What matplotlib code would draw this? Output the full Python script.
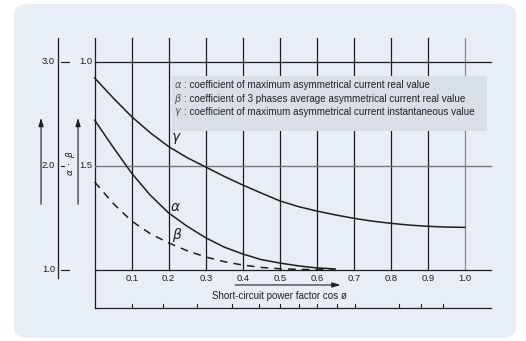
import matplotlib.pyplot as plt
from matplotlib.patches import FancyBboxPatch, Rectangle

plt.rcParams['font.family'] = ['Liberation Sans', 'DejaVu Sans']
narrow = ['Liberation Sans Narrow', 'Liberation Sans', 'DejaVu Sans']

# curve values (outer scale 1.0 .. 3.0)
pf = [0.0, 0.05, 0.1, 0.15, 0.2, 0.25, 0.3, 0.35, 0.4, 0.45, 0.5,
      0.55, 0.6, 0.65, 0.7, 0.75, 0.8, 0.85, 0.9, 0.95, 1.0]
gamma = [2.846, 2.654, 2.474, 2.32, 2.186, 2.08, 1.99, 1.90, 1.817, 1.74, 1.665,
         1.61, 1.567, 1.53, 1.497, 1.47, 1.449, 1.432, 1.42, 1.413, 1.41]
pf_ab = [0.0, 0.05, 0.1, 0.15, 0.2, 0.25, 0.3, 0.35, 0.4, 0.45, 0.5, 0.55, 0.6, 0.65]
alpha = [2.44, 2.18, 1.93, 1.72, 1.548, 1.42, 1.31, 1.22, 1.154, 1.10, 1.067, 1.04, 1.02, 1.01]
beta = [1.846, 1.64, 1.47, 1.35, 1.26, 1.185, 1.125, 1.08, 1.048, 1.025, 1.012, 1.006, 1.003, 1.0]

xticks = [0.1, 0.2, 0.3, 0.4, 0.5, 0.6, 0.7, 0.8, 0.9, 1.0]
xtick_labels = ['0.1', '0.2', '0.3', '0.4', '0.5', '0.6', '0.7', '0.8', '0.9', '1.0']
outer_ticks = [3.0, 2.0, 1.0]
outer_labels = ['3.0', '2.0', '1.0']
inner_ticks = [3.0, 2.0]
inner_labels = ['1.0', '1.5']
# small marks on the lower base line
base_marks = [0.1, 0.184, 0.277, 0.37, 0.445, 0.502, 0.552, 0.602, 0.654, 0.703, 0.822, 0.881, 0.94]
legend_lines = [(r'$\alpha$', ': coefficient of maximum asymmetrical current real value'),
                (r'$\beta$', ': coefficient of 3 phases average asymmetrical current real value'),
                (r'$\gamma$', ': coefficient of maximum asymmetrical current instantaneous value')]

ink = '#1e1e1e'
fig = plt.figure(figsize=(5.26, 3.41), dpi=100)
fig.patch.set_facecolor('white')

# rounded background panel
panel = FancyBboxPatch((14 / 526, 3 / 341), 502 / 526, 334 / 341,
                       boxstyle='round,pad=0,rounding_size=0.03',
                       transform=fig.transFigure, facecolor='#e8eef5',
                       edgecolor='none', zorder=-10)
fig.patches.append(panel)

ax = fig.add_axes([94.7 / 526, 1 - 270 / 341, 396 / 526, 208 / 341])
ax.set_xlim(0, 1.07)
ax.set_ylim(1.0, 3.0)
ax.axis('off')

top = 3.23
base = 0.635

# frame and grid
ax.plot([0, 0], [base, top], color=ink, lw=0.9, clip_on=False)
for x in xticks:
    c = '#888888' if x == 1.0 else ink
    ax.plot([x, x], [1.0, top], color=c, lw=0.9, clip_on=False)
ax.plot([0, 1.07], [3.0, 3.0], color=ink, lw=0.9, clip_on=False)
ax.plot([0, 1.07], [2.0, 2.0], color='#777777', lw=1.0, clip_on=False)
ax.plot([0, 1.07], [1.0, 1.0], color=ink, lw=0.9, clip_on=False)
ax.plot([0, 1.07], [base, base], color=ink, lw=0.9, clip_on=False)
for x in base_marks:
    ax.plot([x, x], [base, base + 0.04], color=ink, lw=0.8, clip_on=False)

# outer scale
ox = -0.099
ax.plot([ox, ox], [top, 0.923], color=ink, lw=0.9, clip_on=False)
for y, lab in zip(outer_ticks, outer_labels):
    ln = 0.008 if y == 2.0 else 0.022
    ax.plot([ox + 0.008, ox + 0.008 + ln], [y, y], color=ink, lw=0.8, clip_on=False)
    ax.text(ox - 0.008, y, lab, ha='right', va='center', fontsize=6.8, color=ink,
            family=narrow)
for y, lab in zip(inner_ticks, inner_labels):
    ax.text(-0.007, y, lab, ha='right', va='center', fontsize=6.8, color=ink,
            family=narrow)

# arrows on the left
for xa in [-0.145, -0.045]:
    ax.annotate('', xy=(xa, 2.49), xytext=(xa, 1.606),
                arrowprops=dict(arrowstyle='-|>,head_length=0.5,head_width=0.15',
                                color=ink, lw=0.8), annotation_clip=False)
ax.text(-0.066, 2.03, r'$\alpha\ \cdot\ \beta$', rotation=90, ha='center', va='center',
        fontsize=6.5, color=ink)

# curves
ax.plot(pf, gamma, color=ink, lw=1.1, clip_on=False)
ax.plot(pf_ab, alpha, color=ink, lw=1.1, clip_on=False)
ax.plot(pf_ab, beta, color=ink, lw=1.1, ls=(0, (5, 4)), clip_on=False)
ax.text(0.222, 2.26, r'$\gamma$', fontsize=10, color=ink, ha='center', va='center')
ax.text(0.218, 1.61, r'$\alpha$', fontsize=10, color=ink, ha='center', va='center')
ax.text(0.222, 1.335, r'$\beta$', fontsize=10, color=ink, ha='center', va='center')

# legend box
ax.add_patch(Rectangle((0.209, 2.337), 0.852, 0.528, facecolor='#d9dfe6',
                       edgecolor='none', zorder=3, clip_on=False))
for i, (sym, txt) in enumerate(legend_lines):
    y = 2.779 - i * 0.13
    ax.text(0.226, y, sym, fontsize=7, color='#555555', ha='center', va='center', zorder=4)
    ax.text(0.24, y, txt, fontsize=7.1, color='#222222', ha='left', va='center', zorder=4)

# x tick labels and axis title
for x, lab in zip(xticks, xtick_labels):
    ax.text(x, 0.92, lab, ha='center', va='center', fontsize=6.8, color=ink,
            family=narrow)
ax.annotate('', xy=(0.672, 0.856), xytext=(0.372, 0.856),
            arrowprops=dict(arrowstyle='-|>,head_length=0.5,head_width=0.15',
                            color=ink, lw=0.8), annotation_clip=False)
ax.text(0.5, 0.75, 'Short-circuit power factor cos ø', ha='center', va='center',
        fontsize=7.0, color=ink)

fig.savefig('out.png', dpi=100)
